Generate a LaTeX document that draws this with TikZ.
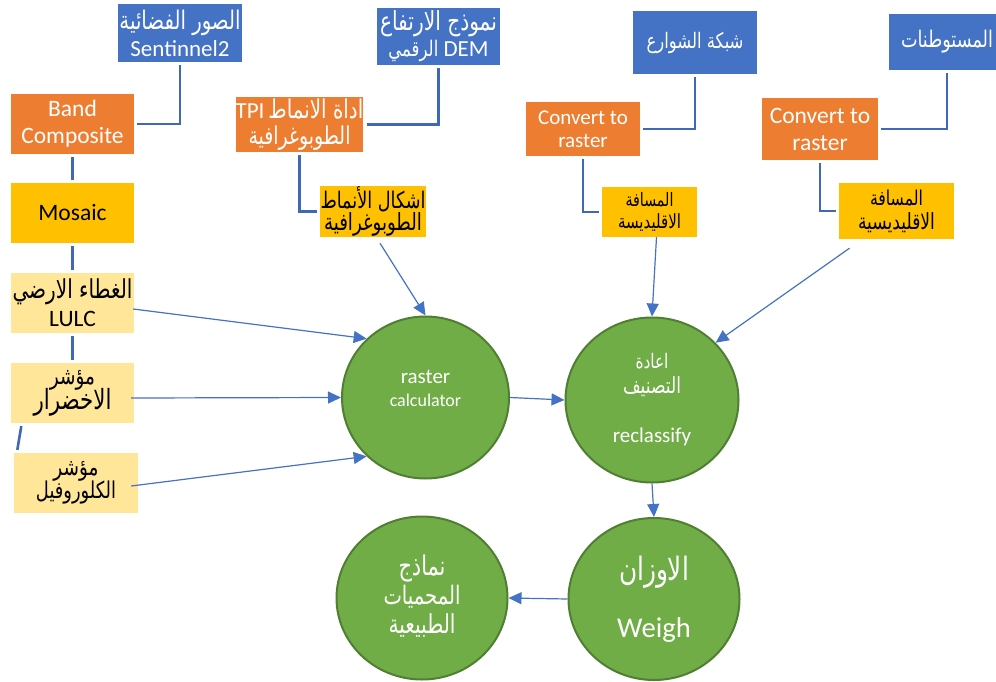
\documentclass[tikz,border=0pt]{standalone}
\usepackage{graphicx}
\usepackage{fontspec}
\setmainfont{Carlito}
\newfontfamily\arabicfont[Script=Arabic]{DejaVu Sans}
\TeXXeTstate=1
\usetikzlibrary{arrows.meta,calc,shapes.geometric}
\newcommand{\AR}[2]{\resizebox{#1pt}{!}{\scalebox{1}[1.3]{\arabicfont #2}}}
\definecolor{cblue}{HTML}{4472C4}
\definecolor{corange}{HTML}{ED7D31}
\definecolor{cgold}{HTML}{FFC000}
\definecolor{clight}{HTML}{FFE699}
\definecolor{cgreen}{HTML}{70AD47}
\definecolor{cgreenb}{HTML}{507E32}
\definecolor{cconn}{HTML}{4068B8}
\newcommand{\fs}[2]{\fontsize{#1}{#2}\selectfont\lineskiplimit=-100pt\lineskip=0pt}
\begin{document}
\begin{tikzpicture}[x=1pt,y=-1pt,
  box/.style={rectangle, inner sep=0pt, align=center},
  bluebox/.style={box, fill=cblue, text=white},
  orbox/.style={box, fill=corange, text=white},
  goldbox/.style={box, fill=cgold, text=black},
  litebox/.style={box, fill=clight, text=black},
  circ/.style={ellipse, inner sep=0pt, fill=cgreen, draw=cgreenb, line width=2pt},
  ctext/.style={inner sep=0pt, align=center, text=white},
  conn/.style={draw=cconn, line width=2.6pt, shorten <=3pt, shorten >=3pt},
  arr/.style={draw=cblue, line width=1.2pt, -{Triangle[length=13pt,width=12pt]}}
]
\useasboundingbox (0,0) rectangle (996,682);

% top row
\node[bluebox, minimum width=124pt, minimum height=58pt, font=\fs{23}{27}] (sent) at (180,33)
  {\AR{121}{\beginR الصور الفضائية\endR}\\Sentinnel2};
\node[bluebox, minimum width=123pt, minimum height=57pt, font=\fs{23}{26}] (dem) at (438.5,36.5)
  {\AR{117}{\beginR نموذج الارتفاع\endR}\\\AR{50}{\beginR الرقمي\endR} DEM};
\node[bluebox, minimum width=124pt, minimum height=63pt, font=\fs{23}{27}] (streets) at (695,42.5)
  {\AR{97}{\beginR شبكة الشوارع\endR}};
\node[bluebox, minimum width=116pt, minimum height=56pt, font=\fs{23}{27}] (settle) at (947,42)
  {\AR{92}{\beginR المستوطنات\endR}};

% orange row
\node[orbox, minimum width=123pt, minimum height=60pt, font=\fs{23.5}{27}] (band) at (72.5,124)
  {Band\\Composite};
\node[orbox, minimum width=123pt, minimum height=55pt, font=\fs{23}{26}] (tpi) at (299.5,124.5)
  {TPI\,\AR{95}{\beginR اداة الانماط\endR}\\\AR{102}{\beginR الطوبوغرافية\endR}};
\node[orbox, minimum width=114pt, minimum height=54pt, font=\fs{21}{23}] (conv1) at (583,129)
  {Convert to\\raster};
\node[orbox, minimum width=116pt, minimum height=62pt, font=\fs{23.5}{27}] (conv2) at (820,129)
  {Convert to\\raster};

% gold row
\node[goldbox, minimum width=123pt, minimum height=60pt, font=\fs{23.5}{27}] (mosaic) at (72.5,213)
  {Mosaic};
\node[goldbox, minimum width=106pt, minimum height=51pt, font=\fs{22}{22}] (shapes) at (373,211.5)
  {\AR{105}{\beginR اشكال الأنماط\endR}\\\AR{98}{\beginR الطوبوغرافية\endR}};
\node[goldbox, minimum width=95pt, minimum height=50pt, font=\fs{20}{22}] (dist1) at (649.5,212)
  {\AR{48}{\beginR المسافة\endR}\\\AR{63}{\beginR الاقليديسة\endR}};
\node[goldbox, minimum width=115pt, minimum height=56pt, font=\fs{22}{24}] (dist2) at (896.5,211)
  {\AR{53}{\beginR المسافة\endR}\\\AR{77}{\beginR الاقليديسية\endR}};

% light column
\node[litebox, minimum width=123pt, minimum height=60pt, font=\fs{23.5}{28}] (lulc) at (72.5,303)
  {\AR{120}{\beginR الغطاء الارضي\endR}\\LULC};
\node[litebox, minimum width=123pt, minimum height=60pt, font=\fs{22}{25}] (akh) at (72.5,393)
  {\AR{45}{\beginR مؤشر\endR}\\\AR{78}{\beginR الاخضرار\endR}};
\node[litebox, minimum width=124pt, minimum height=60pt, font=\fs{22}{23}] (chl) at (76,483)
  {\AR{45}{\beginR مؤشر\endR}\\\AR{80}{\beginR الكلوروفيل\endR}};

% circles
\node[circ, minimum width=167pt, minimum height=162pt] (rc) at (425.5,397.5) {};
\node[ctext, font=\fs{21}{23}] (rct) at (425.5,388) {raster\\{\fontsize{18}{23}\selectfont calculator}};
\node[circ, minimum width=173pt, minimum height=165pt] (rcl) at (652,400) {};
\node[ctext, font=\fs{20}{25}] (rclt1) at (652,375.5) {\AR{33}{\beginR اعادة\endR}\\\AR{58}{\beginR التصنيف\endR}};
\node[ctext, font=\fs{21}{23}] (rclt2) at (652,437) {reclassify};
\node[circ, minimum width=171pt, minimum height=162pt] (weigh) at (654,599) {};
\node[ctext, font=\fs{28}{30}] (wt1) at (654,572) {\AR{70}{\beginR الاوزان\endR}};
\node[ctext, font=\fs{28.6}{30}] (wt2) at (654,630) {Weigh};
\node[circ, minimum width=171pt, minimum height=163pt] (nature) at (422,598) {};
\node[ctext, font=\fs{24}{29}] (nt) at (422,596) {\AR{47}{\beginR نماذج\endR}\\\AR{77}{\beginR المحميات\endR}\\\AR{67}{\beginR الطبيعية\endR}};

% thick elbow connectors
\draw[conn] (sent.south) |- (band.east);
\draw[conn] (band.south) -- (mosaic.north);
\draw[conn] (mosaic.south) -- (lulc.north);
\draw[conn] (lulc.south) -- (akh.north);
\draw[conn] ($(akh.south west)+(11,0)$) -- ($(chl.north west)+(3,0)$);
\draw[conn] (dem.south) |- (tpi.east);
\draw[conn] (tpi.south) |- (shapes.west);
\draw[conn] (streets.south) |- (conv1.east);
\draw[conn] (conv1.south) |- (dist1.west);
\draw[conn] (settle.south) |- (conv2.east);
\draw[conn] (conv2.south) |- (dist2.west);

% arrows
\draw[arr] ($(shapes.south)+(7,6)$) -- (rc.north);
\draw[arr] ($(lulc.east)+(-1,6)$) -- (rc.135);
\draw[arr] ($(akh.east)+(-3,5)$) -- (rc.west);
\draw[arr] ($(chl.east)+(-7,3)$) -- (rc.225);
\draw[arr] (rc.east) -- (rcl.west);
\draw[arr] ($(dist1.south)+(7,0)$) -- (rcl.north);
\draw[arr] ($(dist2.south)+(-47,9)$) -- (rcl.42);
\draw[arr] (rcl.south) -- (weigh.north);
\draw[arr] (weigh.west) -- (nature.east);
\end{tikzpicture}
\end{document}
